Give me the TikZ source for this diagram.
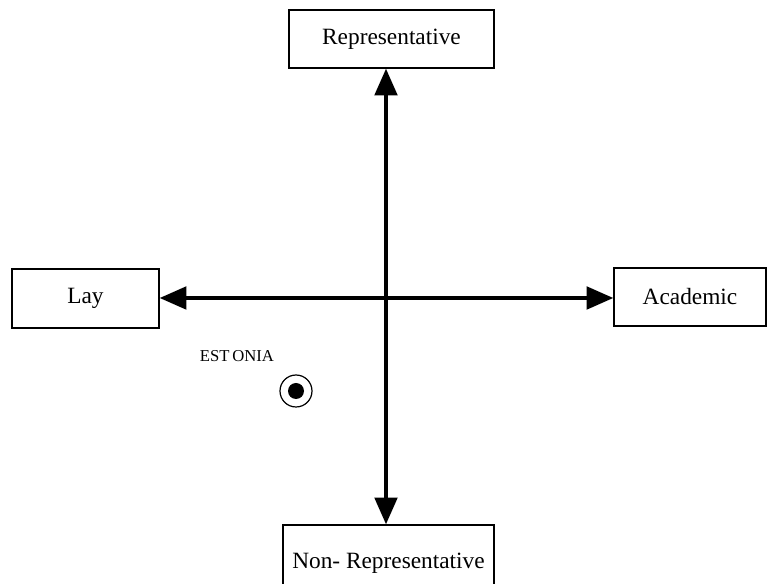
\documentclass[tikz,border=0pt]{standalone}
\usepackage{fontspec}
\setmainfont{Liberation Serif}
\usetikzlibrary{arrows.meta}
\begin{document}
\begin{tikzpicture}[x=0.75pt,y=-0.75pt,
  pole/.style={draw,line width=1.1pt,inner sep=0pt,font=\fontsize{17.5}{20}\selectfont},
  axis/.style={line width=2.3pt,{Triangle[length=20pt,width=17pt]}-{Triangle[length=20pt,width=17pt]}},
  tag/.style={font=\fontsize{12.5}{14}\selectfont,inner sep=0pt}]
\clip (0,0) rectangle (769,584);
\fill[white] (0,0) rectangle (769,584);
% the four poles
\node[pole,minimum width=205*0.75pt,minimum height=58*0.75pt] (top) at (391.5,39) {Representative};
\node[pole,minimum width=147*0.75pt,minimum height=59*0.75pt] (lay) at (85.5,298.5) {Lay};
\node[pole,minimum width=152*0.75pt,minimum height=58*0.75pt] (acad) at (690,297) {Academic};
\node[pole,minimum width=211*0.75pt,minimum height=80*0.75pt] (bot) at (388.5,565) {\raisebox{7pt}{Non- Representative}};
% the two axes
\coordinate (c) at (386,298);
\draw[axis] (c |- bot.north) -- (c |- top.south);
\draw[axis] (lay.east |- c) -- (acad.west |- c);
% position marker
\node[tag] (lbl) at (237,356) {EST\,ONIA};
\node[circle,draw,line width=0.9pt,minimum size=32*0.75pt,inner sep=0pt] (mark) at (296,391) {};
\fill (mark.center) circle (8*0.75pt);
\end{tikzpicture}
\end{document}
